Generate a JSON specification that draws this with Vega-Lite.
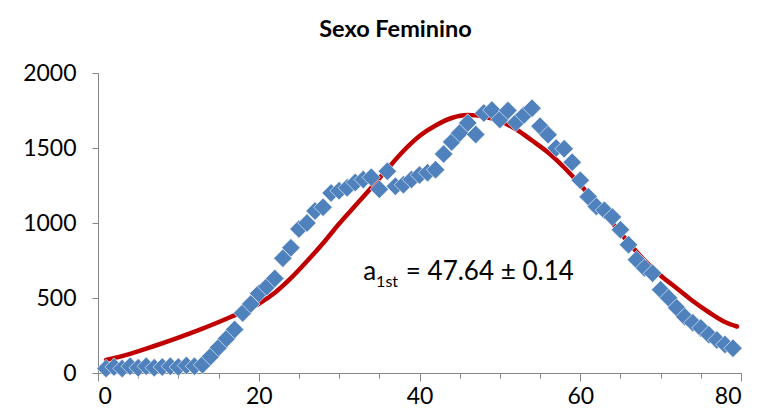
{
  "$schema": "https://vega.github.io/schema/vega-lite/v6.json",
  "width": 643,
  "height": 300,
  "autosize": {"type": "none"},
  "padding": {"left": 98, "top": 73, "right": 17, "bottom": 44},
  "background": "white",
  "title": {
    "text": "Sexo Feminino",
    "font": "Lato",
    "fontWeight": "bold",
    "fontSize": 23.5,
    "color": "black",
    "anchor": "middle",
    "frame": "group",
    "dx": -24,
    "offset": 21
  },
  "config": {
    "view": {"stroke": null},
    "axis": {
      "grid": false,
      "domainColor": "#868686",
      "tickColor": "#868686",
      "labelFont": "Lato",
      "labelFontSize": 23,
      "labelColor": "black",
      "title": null
    }
  },
  "datasets": {
    "points": [
      {"x": 1, "y": 30}, {"x": 2, "y": 40}, {"x": 3, "y": 30}, {"x": 4, "y": 45},
      {"x": 5, "y": 35}, {"x": 6, "y": 45}, {"x": 7, "y": 35}, {"x": 8, "y": 40},
      {"x": 9, "y": 45}, {"x": 10, "y": 40}, {"x": 11, "y": 50}, {"x": 12, "y": 45},
      {"x": 13, "y": 55}, {"x": 14, "y": 110}, {"x": 15, "y": 170}, {"x": 16, "y": 230},
      {"x": 17, "y": 290}, {"x": 18, "y": 400}, {"x": 19, "y": 460}, {"x": 20, "y": 530},
      {"x": 21, "y": 575}, {"x": 22, "y": 630}, {"x": 23, "y": 765}, {"x": 24, "y": 835},
      {"x": 25, "y": 960}, {"x": 26, "y": 1000}, {"x": 27, "y": 1080}, {"x": 28, "y": 1105},
      {"x": 29, "y": 1200}, {"x": 30, "y": 1215}, {"x": 31, "y": 1235}, {"x": 32, "y": 1270},
      {"x": 33, "y": 1290}, {"x": 34, "y": 1305}, {"x": 35, "y": 1225}, {"x": 36, "y": 1345},
      {"x": 37, "y": 1245}, {"x": 38, "y": 1255}, {"x": 39, "y": 1290}, {"x": 40, "y": 1320},
      {"x": 41, "y": 1335}, {"x": 42, "y": 1355}, {"x": 43, "y": 1460}, {"x": 44, "y": 1540},
      {"x": 45, "y": 1600}, {"x": 46, "y": 1667}, {"x": 47, "y": 1590}, {"x": 48, "y": 1733},
      {"x": 49, "y": 1753}, {"x": 50, "y": 1690}, {"x": 51, "y": 1750}, {"x": 52, "y": 1670},
      {"x": 53, "y": 1720}, {"x": 54, "y": 1765}, {"x": 55, "y": 1645}, {"x": 56, "y": 1588},
      {"x": 57, "y": 1500}, {"x": 58, "y": 1495}, {"x": 59, "y": 1405}, {"x": 60, "y": 1285},
      {"x": 61, "y": 1175}, {"x": 62, "y": 1110}, {"x": 63, "y": 1085}, {"x": 64, "y": 1040},
      {"x": 65, "y": 955}, {"x": 66, "y": 855}, {"x": 67, "y": 755}, {"x": 68, "y": 700},
      {"x": 69, "y": 665}, {"x": 70, "y": 555}, {"x": 71, "y": 500}, {"x": 72, "y": 435},
      {"x": 73, "y": 375}, {"x": 74, "y": 335}, {"x": 75, "y": 300}, {"x": 76, "y": 255},
      {"x": 77, "y": 220}, {"x": 78, "y": 190}, {"x": 79, "y": 165}
    ],
    "curve": [
      {"x": 1, "y": 87}, {"x": 4, "y": 128}, {"x": 7, "y": 180}, {"x": 10, "y": 236},
      {"x": 13, "y": 296}, {"x": 16, "y": 362}, {"x": 18, "y": 408}, {"x": 20, "y": 462},
      {"x": 22, "y": 535}, {"x": 24, "y": 632}, {"x": 26, "y": 745}, {"x": 28, "y": 865},
      {"x": 30, "y": 995}, {"x": 32, "y": 1115}, {"x": 34, "y": 1235}, {"x": 36, "y": 1360},
      {"x": 38, "y": 1480}, {"x": 40, "y": 1580}, {"x": 42, "y": 1650}, {"x": 44, "y": 1700},
      {"x": 46, "y": 1720}, {"x": 48, "y": 1710}, {"x": 50, "y": 1680}, {"x": 52, "y": 1625},
      {"x": 54, "y": 1550}, {"x": 56, "y": 1470}, {"x": 58, "y": 1370}, {"x": 60, "y": 1255},
      {"x": 62, "y": 1130}, {"x": 64, "y": 1000}, {"x": 66, "y": 870}, {"x": 68, "y": 750},
      {"x": 70, "y": 650}, {"x": 72, "y": 565}, {"x": 74, "y": 480}, {"x": 76, "y": 405},
      {"x": 78, "y": 340}, {"x": 79.5, "y": 310}
    ],
    "labels": [
      {"x": 33.0, "y": 620, "t": "a", "part": "main"},
      {"x": 38.3, "y": 620, "t": "= 47.64 ± 0.14", "part": "main"},
      {"x": 34.6, "y": 573, "t": "1st", "part": "sub"}
    ]
  },
  "resolve": {"axis": {"x": "independent"}},
  "layer": [
    {
      "data": {"name": "curve"},
      "mark": {"type": "line", "color": "#C00000", "strokeWidth": 4.5, "strokeCap": "round", "interpolate": "monotone"},
      "encoding": {
        "x": {"field": "x", "type": "quantitative", "scale": {"domain": [0, 80], "nice": false},
              "axis": {"orient": "bottom", "values": [0, 20, 40, 60, 80], "tickSize": 8, "labelPadding": 4, "domain": true}},
        "y": {"field": "y", "type": "quantitative", "scale": {"domain": [0, 2000], "nice": false},
              "axis": {"values": [0, 500, 1000, 1500, 2000], "format": "d", "tickSize": 6, "labelPadding": 16}}
      }
    },
    {
      "data": {"name": "points"},
      "mark": {"type": "point", "shape": "diamond", "filled": true, "size": 340, "color": "#4F81BD", "opacity": 1, "stroke": "white", "strokeWidth": 0.6},
      "encoding": {
        "x": {"field": "x", "type": "quantitative",
              "axis": {"orient": "bottom", "values": [0, 5, 10, 15, 20, 25, 30, 35, 40, 45, 50, 55, 60, 65, 70, 75, 80], "tickSize": 5, "labels": false, "domain": true}},
        "y": {"field": "y", "type": "quantitative"}
      }
    },
    {
      "data": {"name": "labels"},
      "transform": [{"filter": "datum.part == 'main'"}],
      "mark": {"type": "text", "font": "Lato", "fontSize": 26, "align": "left", "baseline": "alphabetic", "color": "black"},
      "encoding": {
        "x": {"field": "x", "type": "quantitative", "axis": null},
        "y": {"field": "y", "type": "quantitative"},
        "text": {"field": "t"}
      }
    },
    {
      "data": {"name": "labels"},
      "transform": [{"filter": "datum.part == 'sub'"}],
      "mark": {"type": "text", "font": "Lato", "fontSize": 16, "align": "left", "baseline": "alphabetic", "color": "black"},
      "encoding": {
        "x": {"field": "x", "type": "quantitative", "axis": null},
        "y": {"field": "y", "type": "quantitative"},
        "text": {"field": "t"}
      }
    }
  ]
}
